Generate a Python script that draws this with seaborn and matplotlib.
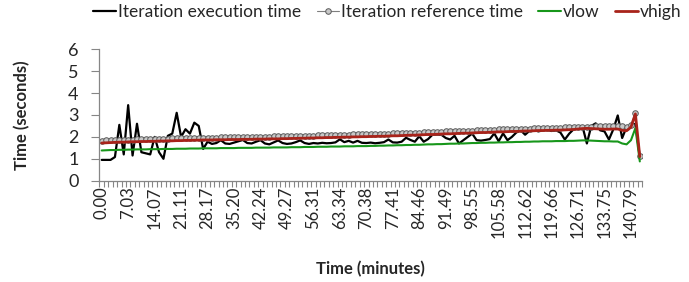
import matplotlib
matplotlib.use("Agg")
import matplotlib.pyplot as plt
import numpy as np
import pandas as pd
import seaborn as sns

# x tick labels (minutes), one every 6 categories
tick_labels = ["0.00", "7.03", "14.07", "21.11", "28.17", "35.20", "42.24", "49.27",
               "56.31", "63.34", "70.38", "77.41", "84.46", "91.49", "98.55", "105.58",
               "112.62", "119.66", "126.71", "133.75", "140.79"]

execution = [
    0.95, 0.95, 0.95, 1.08, 2.55, 1.20, 3.45, 1.15, 2.60, 1.30,
    1.25, 1.20, 2.00, 1.30, 1.00, 2.05, 2.15, 3.10, 2.00, 2.35,
    2.15, 2.65, 2.50, 1.45, 1.78, 1.68, 1.72, 1.85, 1.70, 1.68,
    1.74, 1.80, 1.86, 1.72, 1.70, 1.78, 1.85, 1.70, 1.66, 1.75,
    1.84, 1.72, 1.68, 1.70, 1.76, 1.84, 1.72, 1.68, 1.72, 1.70,
    1.73, 1.71, 1.72, 1.75, 1.89, 1.76, 1.82, 1.74, 1.82, 1.73,
    1.72, 1.74, 1.71, 1.73, 1.76, 1.88, 1.75, 1.74, 1.78, 1.96,
    1.86, 1.78, 2.03, 1.78, 1.90, 2.10, 2.11, 2.10, 1.95, 1.88,
    2.05, 1.70, 1.85, 2.00, 2.15, 1.85, 1.83, 1.86, 1.90, 2.16,
    1.80, 2.16, 1.85, 2.00, 2.20, 2.30, 2.10, 2.28, 2.32, 2.25,
    2.30, 2.33, 2.27, 2.30, 2.20, 1.88, 2.15, 2.35, 2.40, 2.48,
    1.70, 2.50, 2.62, 2.30, 2.25, 1.88, 2.35, 2.98, 1.95, 2.45,
    2.50, 2.60, 1.10,
]

reference = [
    1.82, 1.84, 1.85, 1.86, 1.86, 1.87, 1.88, 1.88, 1.89, 1.89,
    1.90, 1.90, 1.91, 1.91, 1.92, 1.92, 1.93, 1.93, 1.94, 1.94,
    1.95, 1.95, 1.96, 1.96, 1.97, 1.97, 1.97, 1.98, 1.98, 1.98,
    1.99, 1.99, 1.99, 2.00, 2.00, 2.00, 2.01, 2.01, 2.01, 2.02,
    2.02, 2.03, 2.03, 2.04, 2.04, 2.05, 2.05, 2.06, 2.06, 2.07,
    2.07, 2.08, 2.08, 2.09, 2.09, 2.10, 2.10, 2.11, 2.11, 2.12,
    2.12, 2.13, 2.13, 2.14, 2.14, 2.15, 2.16, 2.16, 2.17, 2.18,
    2.19, 2.19, 2.20, 2.21, 2.22, 2.22, 2.23, 2.24, 2.25, 2.25,
    2.26, 2.27, 2.28, 2.28, 2.29, 2.30, 2.31, 2.31, 2.32, 2.33,
    2.34, 2.34, 2.35, 2.36, 2.36, 2.37, 2.38, 2.38, 2.39, 2.40,
    2.40, 2.41, 2.41, 2.42, 2.42, 2.43, 2.43, 2.44, 2.44, 2.45,
    2.46, 2.47, 2.48, 2.49, 2.49, 2.50, 2.50, 2.51, 2.48, 2.46,
    2.56, 3.10, 1.12,
]

vlow = [
    1.38, 1.39, 1.40, 1.40, 1.41, 1.41, 1.42, 1.42, 1.43, 1.43,
    1.43, 1.44, 1.44, 1.44, 1.45, 1.45, 1.45, 1.46, 1.46, 1.46,
    1.47, 1.47, 1.47, 1.48, 1.48, 1.48, 1.48, 1.49, 1.49, 1.49,
    1.49, 1.50, 1.50, 1.50, 1.50, 1.51, 1.51, 1.51, 1.51, 1.52,
    1.52, 1.52, 1.52, 1.53, 1.53, 1.53, 1.54, 1.54, 1.54, 1.55,
    1.55, 1.55, 1.56, 1.56, 1.56, 1.57, 1.57, 1.57, 1.58, 1.58,
    1.58, 1.59, 1.59, 1.60, 1.60, 1.61, 1.61, 1.62, 1.62, 1.63,
    1.63, 1.64, 1.64, 1.65, 1.66, 1.66, 1.67, 1.67, 1.68, 1.69,
    1.69, 1.70, 1.70, 1.71, 1.72, 1.72, 1.73, 1.73, 1.74, 1.74,
    1.75, 1.75, 1.76, 1.76, 1.77, 1.77, 1.78, 1.78, 1.79, 1.79,
    1.80, 1.80, 1.80, 1.81, 1.81, 1.81, 1.82, 1.82, 1.83, 1.84,
    1.84, 1.83, 1.82, 1.81, 1.80, 1.80, 1.79, 1.79, 1.70, 1.66,
    1.85, 2.40, 0.88,
]

vhigh = [
    1.72, 1.73, 1.74, 1.75, 1.76, 1.76, 1.77, 1.78, 1.78, 1.79,
    1.79, 1.80, 1.80, 1.81, 1.81, 1.82, 1.82, 1.83, 1.83, 1.84,
    1.84, 1.85, 1.85, 1.86, 1.86, 1.86, 1.87, 1.87, 1.87, 1.88,
    1.88, 1.88, 1.89, 1.89, 1.89, 1.90, 1.90, 1.90, 1.91, 1.91,
    1.91, 1.92, 1.92, 1.93, 1.93, 1.94, 1.94, 1.95, 1.95, 1.96,
    1.96, 1.97, 1.97, 1.98, 1.98, 1.99, 1.99, 2.00, 2.00, 2.01,
    2.01, 2.02, 2.02, 2.03, 2.03, 2.04, 2.05, 2.05, 2.06, 2.07,
    2.08, 2.08, 2.09, 2.10, 2.11, 2.11, 2.12, 2.13, 2.14, 2.14,
    2.15, 2.16, 2.17, 2.17, 2.18, 2.19, 2.20, 2.20, 2.21, 2.22,
    2.23, 2.23, 2.24, 2.25, 2.25, 2.26, 2.27, 2.27, 2.28, 2.29,
    2.29, 2.30, 2.30, 2.31, 2.31, 2.32, 2.33, 2.34, 2.36, 2.38,
    2.39, 2.38, 2.37, 2.36, 2.35, 2.35, 2.36, 2.36, 2.30, 2.28,
    2.45, 3.05, 1.10,
]

n = len(execution)
df = pd.DataFrame({
    "cat": np.arange(n),
    "Iteration execution time": execution,
    "Iteration reference time": reference,
    "vlow": vlow,
    "vhigh": vhigh,
})

sns.set_theme(style="white")
plt.rcParams["font.family"] = ["Lato", "DejaVu Sans"]

fig = plt.figure(figsize=(6.89, 2.82), dpi=100)
ax = fig.add_axes([0.1444, 0.3592, 0.7874, 0.4660])

sns.lineplot(data=df, x="cat", y="Iteration execution time", ax=ax, color="black",
             linewidth=1.6, label="Iteration execution time")
sns.lineplot(data=df, x="cat", y="Iteration reference time", ax=ax, color="#7f7f7f",
             linewidth=0.8, marker="o", markersize=4, markerfacecolor="#c8c8c8",
             markeredgecolor="#595959", markeredgewidth=0.7, label="Iteration reference time")
sns.lineplot(data=df, x="cat", y="vlow", ax=ax, color="#17961a", linewidth=1.5, label="vlow")
sns.lineplot(data=df, x="cat", y="vhigh", ax=ax, color="#a8231a", linewidth=2.0, label="vhigh")

ax.set_xlim(-0.5, n - 0.5)
ax.set_ylim(0, 6)
ax.set_yticks(range(7))
ax.set_xticks(np.arange(-0.5, n, 1.0))
ax.set_xticklabels([])
label_pos = np.arange(0, 6 * len(tick_labels), 6)
ax.set_xticks(label_pos, tick_labels, minor=True)
ax.tick_params(axis="x", which="major", direction="out", length=4, width=0.8,
               color="#868686", bottom=True)
ax.tick_params(axis="x", which="minor", length=0, pad=4, labelsize=12, labelrotation=90,
               bottom=True)
ax.tick_params(axis="y", direction="out", length=6, width=0.8, color="#868686",
               pad=9, labelsize=13, left=True)

for side in ["top", "right"]:
    ax.spines[side].set_visible(False)
for side in ["left", "bottom"]:
    ax.spines[side].set_color("#868686")
    ax.spines[side].set_linewidth(0.9)
ax.grid(False)

ax.set_xlabel("Time (minutes)", fontsize=12, fontweight="bold")
ax.set_ylabel("Time (seconds)", fontsize=12, fontweight="bold")
ax.xaxis.set_label_coords(0.5, -0.61)
ax.yaxis.set_label_coords(-0.127, 0.5)

ax.legend(loc="center", bbox_to_anchor=(0.562, 0.957), bbox_transform=fig.transFigure,
          ncol=4, frameon=False, fontsize=12.5, handlelength=1.3, handletextpad=0.1,
          columnspacing=0.9, borderpad=0, borderaxespad=0)

fig.savefig("out.png", dpi=100)
